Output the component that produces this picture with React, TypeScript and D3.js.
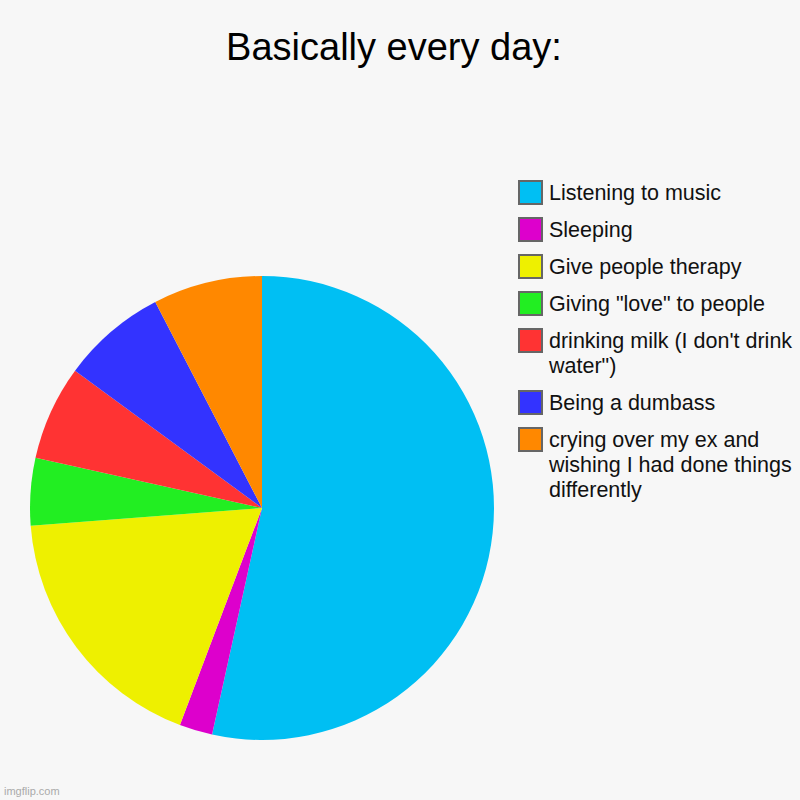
import React, { useEffect, useRef } from 'react';
import * as d3 from 'd3';

const categories = [
  'Listening to music',
  'Sleeping',
  'Give people therapy',
  'Giving "love" to people',
  "drinking milk (I don't drink water\")",
  'Being a dumbass',
  'crying over my ex and wishing I had done things differently',
];
const values = [53.4, 2.3, 18.0, 4.7, 6.6, 7.3, 7.6];
const colors = ['#00BFF3', '#DD00CC', '#EEF000', '#22EE22', '#FF3333', '#3333FF', '#FF8800'];
// legend labels as they wrap in the picture
const legendLines = [
  ['Listening to music'],
  ['Sleeping'],
  ['Give people therapy'],
  ['Giving "love" to people'],
  ["drinking milk (I don't drink", 'water")'],
  ['Being a dumbass'],
  ['crying over my ex and', 'wishing I had done things', 'differently'],
];

const App: React.FC = () => {
  const svgRef = useRef<SVGSVGElement>(null);

  useEffect(() => {
    if (!svgRef.current) return;
    const width = 800;
    const height = 800;
    const svg = d3.select(svgRef.current);
    svg.selectAll('*').remove();
    svg.attr('width', width).attr('height', height);

    svg.append('rect').attr('width', width).attr('height', height).attr('fill', '#f7f7f7');

    // Title
    svg
      .append('text')
      .attr('x', 394)
      .attr('y', 60)
      .attr('text-anchor', 'middle')
      .attr('font-family', '"Liberation Sans", Arial, sans-serif')
      .attr('font-size', 38)
      .attr('fill', '#000')
      .text('Basically every day:');

    // Pie
    const data = categories.map((c, i) => ({ name: c, value: values[i], color: colors[i] }));
    const pie = d3
      .pie<{ name: string; value: number; color: string }>()
      .value((d) => d.value)
      .sort(null);
    const arc = d3
      .arc<d3.PieArcDatum<{ name: string; value: number; color: string }>>()
      .innerRadius(0)
      .outerRadius(232);

    const g = svg.append('g').attr('transform', 'translate(262,508)');
    g.selectAll('path')
      .data(pie(data))
      .enter()
      .append('path')
      .attr('d', arc)
      .attr('fill', (d) => d.data.color);

    // Legend
    const legend = svg.append('g');
    let y = 180;
    legendLines.forEach((lines, i) => {
      legend
        .append('rect')
        .attr('x', 519)
        .attr('y', y + 1)
        .attr('width', 23)
        .attr('height', 23)
        .attr('fill', colors[i])
        .attr('stroke', '#666')
        .attr('stroke-width', 2);
      lines.forEach((line, j) => {
        legend
          .append('text')
          .attr('x', 549)
          .attr('y', y + 20 + j * 25)
          .attr('font-family', '"Liberation Sans", Arial, sans-serif')
          .attr('font-size', 21.5)
          .attr('fill', '#111')
          .text(line);
      });
      y += 37 + (lines.length - 1) * 25;
    });

    // Watermark
    svg
      .append('text')
      .attr('x', 4)
      .attr('y', 795)
      .attr('font-family', '"Liberation Sans", Arial, sans-serif')
      .attr('font-size', 11)
      .attr('fill', '#aaa')
      .text('imgflip.com');
  }, []);

  return <svg ref={svgRef} style={{ position: 'absolute', left: 0, top: 0 }}></svg>;
};

export default App;
